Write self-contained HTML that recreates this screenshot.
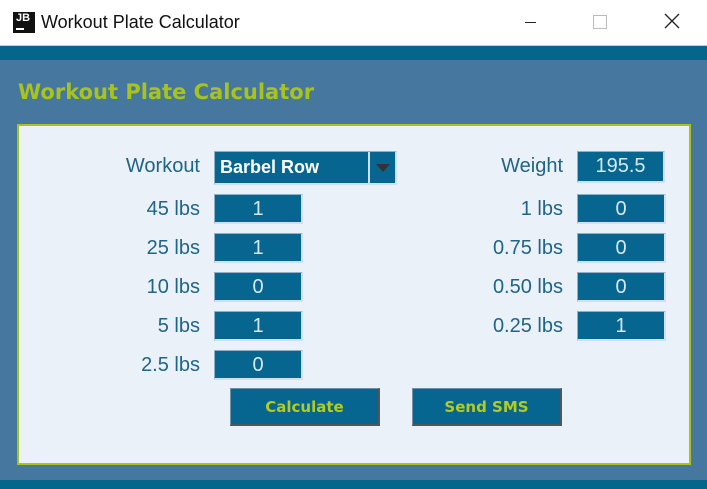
<!DOCTYPE html>
<html><head><meta charset="utf-8"><style>
*{margin:0;padding:0;box-sizing:border-box}
body{width:707px;height:489px;position:relative;overflow:hidden;background:#fff;font-family:"Liberation Sans","DejaVu Sans",sans-serif}
.abs{position:absolute}
.lbl{position:absolute;color:#1f6489;font-size:20px;text-align:right;width:180px;line-height:31px}
.fld{position:absolute;background:#06668f;border-right:2px solid #cfe0ee;border-bottom:2px solid #cfe0ee;border-top:1px solid #8fb0c8;border-left:1px solid #8fb0c8;color:#d7e8f5;font-size:20px;text-align:center;line-height:28px}
.btn{position:absolute;background:#06668f;border:1px solid #7090a8;border-right:2px solid #555;border-bottom:2px solid #555;color:#b3cc1e;font-weight:bold;font-size:15px;text-align:center;line-height:37px;font-family:"DejaVu Sans",sans-serif}
</style></head><body>
<div class="abs" style="left:0;top:0;width:707px;height:46px;background:#fff;border-bottom:1px solid #c8d8a0">
 <div class="abs" style="left:13px;top:12px;width:22px;height:21px;background:#111;color:#fff;font-size:11px;font-weight:bold;padding-left:3px;line-height:13px">JB<div style="width:8px;height:2px;background:#fff;margin-top:3px"></div></div>
 <div class="abs" style="left:41px;top:12px;font-size:18px;color:#111">Workout Plate Calculator</div>
 <div class="abs" style="left:525px;top:22px;width:11px;height:1px;background:#222"></div>
 <div class="abs" style="left:593px;top:15px;width:14px;height:14px;border:1px solid #bbb"></div>
 <div class="abs" style="left:663px;top:12px;width:18px;height:18px">
  <svg width="18" height="18"><path d="M2 2L16 16M16 2L2 16" stroke="#222" stroke-width="1.3"/></svg>
 </div>
</div>
<div class="abs" style="left:0;top:46px;width:707px;height:14px;background:#05668c"></div>
<div class="abs" style="left:0;top:60px;width:707px;height:420px;background:#46789f"></div>
<div class="abs" style="left:0;top:480px;width:707px;height:9px;background:#05668c"></div>
<div class="abs" style="left:18px;top:80px;font-size:21px;font-weight:bold;color:#a8c41c;font-family:'DejaVu Sans',sans-serif">Workout Plate Calculator</div>
<div class="abs" style="left:17px;top:124px;width:674px;height:341px;background:#ebf1f8;border:2px solid #a9c21f"></div>

<div class="lbl" style="left:20px;top:151px">Workout</div>
<div class="fld" style="left:214px;top:151px;width:183px;height:34px;text-align:left;padding-left:5px;font-weight:bold;color:#fff;font-size:18px;line-height:31px">Barbel Row
 <div class="abs" style="left:153px;top:0;width:27px;height:31px;border-left:2px solid #cfe0ee"><div style="margin:12px auto 0;width:0;height:0;border-left:7px solid transparent;border-right:7px solid transparent;border-top:8px solid #333"></div></div>
</div>
<div class="lbl" style="left:383px;top:151px">Weight</div>
<div class="fld" style="left:577px;top:151px;width:88px;height:32px;line-height:29px">195.5</div>

<div class="lbl" style="left:20px;top:194px">45 lbs</div>
<div class="fld" style="left:214px;top:194px;width:89px;height:30px">1</div>
<div class="lbl" style="left:20px;top:233px">25 lbs</div>
<div class="fld" style="left:214px;top:233px;width:89px;height:30px">1</div>
<div class="lbl" style="left:20px;top:272px">10 lbs</div>
<div class="fld" style="left:214px;top:272px;width:89px;height:30px">0</div>
<div class="lbl" style="left:20px;top:311px">5 lbs</div>
<div class="fld" style="left:214px;top:311px;width:89px;height:30px">1</div>
<div class="lbl" style="left:20px;top:350px">2.5 lbs</div>
<div class="fld" style="left:214px;top:350px;width:89px;height:30px">0</div>

<div class="lbl" style="left:383px;top:194px">1 lbs</div>
<div class="fld" style="left:577px;top:194px;width:89px;height:30px">0</div>
<div class="lbl" style="left:383px;top:233px">0.75 lbs</div>
<div class="fld" style="left:577px;top:233px;width:89px;height:30px">0</div>
<div class="lbl" style="left:383px;top:272px">0.50 lbs</div>
<div class="fld" style="left:577px;top:272px;width:89px;height:30px">0</div>
<div class="lbl" style="left:383px;top:311px">0.25 lbs</div>
<div class="fld" style="left:577px;top:311px;width:89px;height:30px">1</div>

<div class="btn" style="left:230px;top:388px;width:150px;height:38px">Calculate</div>
<div class="btn" style="left:412px;top:388px;width:150px;height:38px">Send SMS</div>
</body></html>
